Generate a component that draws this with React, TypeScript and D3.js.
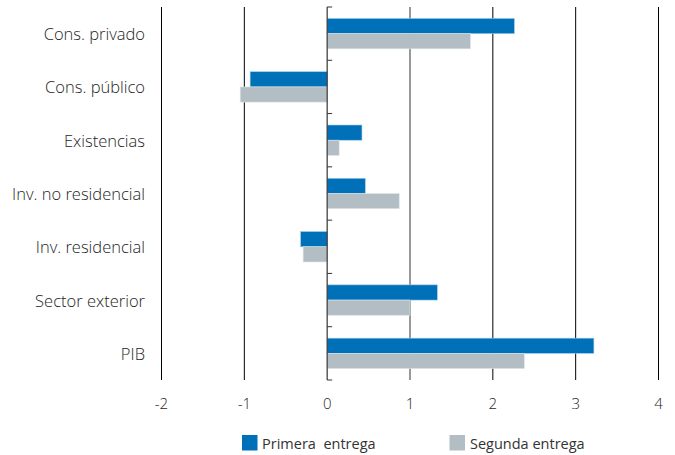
import React from "react";
import * as d3 from "d3";

const categories = [
  "Cons. privado",
  "Cons. público",
  "Existencias",
  "Inv. no residencial",
  "Inv. residencial",
  "Sector exterior",
  "PIB",
];
const primera = [2.26, -0.93, 0.42, 0.46, -0.32, 1.33, 3.22];
const segunda = [1.73, -1.05, 0.145, 0.87, -0.29, 1.0, 2.38];
const xTicks = [-2, -1, 0, 1, 2, 3, 4];
const seriesNames = ["Primera  entrega", "Segunda entrega"];

const W = 675;
const H = 455;
const FONT = "'Open Sans', 'Noto Sans', sans-serif";
const BLUE = "#0070b8";
const GRAY = "#b2bec3";

export default function App() {
  const x = d3.scaleLinear().domain([-2, 4]).range([161.5, 658.5]);
  const y = d3.scaleBand<string>().domain(categories).range([7, 380]).paddingInner(0).paddingOuter(0);
  const bw = y.bandwidth();
  const barH = 15.2;
  const top = (c: string) => y(c)! + bw / 2 - barH;
  const x0 = x(0);

  return (
    <svg width={W} height={H} style={{ position: "absolute", left: 0, top: 0, background: "#fff" }}>
      {/* vertical grid */}
      {xTicks.filter((t) => t !== 0).map((t) => (
        <line
          key={t}
          x1={x(t)}
          x2={x(t)}
          y1={7}
          y2={380}
          stroke={t === 1 ? "#7f7f7f" : "#000"}
          strokeWidth={t === 1 ? 1.6 : 1}
        />
      ))}
      {/* bars */}
      {categories.map((c, i) => (
        <g key={c}>
          <rect
            x={Math.min(x0, x(primera[i]))}
            y={top(c)}
            width={Math.abs(x(primera[i]) - x0)}
            height={barH}
            fill={BLUE}
            stroke="#9ccbea"
            strokeWidth={0.6}
          />
          <rect
            x={Math.min(x0, x(segunda[i]))}
            y={top(c) + barH}
            width={Math.abs(x(segunda[i]) - x0)}
            height={barH}
            fill={GRAY}
            stroke="#dfe5e8"
            strokeWidth={0.6}
          />
        </g>
      ))}
      {/* zero axis with category ticks */}
      <line x1={x0} x2={x0} y1={7} y2={380} stroke="#333" strokeWidth={1.2} />
      {d3.range(categories.length + 1).map((i) => {
        const yy = 7 + i * bw;
        return <line key={i} x1={x0} x2={x0 + 5} y1={yy} y2={yy} stroke="#333" strokeWidth={1} />;
      })}
      {/* category labels */}
      {categories.map((c) => (
        <text
          key={c}
          x={145}
          y={y(c)! + bw / 2}
          textAnchor="end"
          dominantBaseline="central"
          fontFamily={FONT}
          fontSize={16.5}
          fontWeight={300}
          fill="#1e1e1e"
        >
          {c}
        </text>
      ))}
      {/* x tick labels */}
      {xTicks.map((t) => (
        <text
          key={t}
          x={x(t)}
          y={403}
          textAnchor="middle"
          dominantBaseline="central"
          fontFamily={FONT}
          fontSize={15}
          fontWeight={300}
          fill="#1e1e1e"
        >
          {t}
        </text>
      ))}
      {/* legend */}
      <rect x={242} y={435} width={15.5} height={15.5} fill={BLUE} />
      <text x={262} y={443} dominantBaseline="central" fontFamily={FONT} fontSize={14.5} fill="#333" style={{ whiteSpace: "pre" }}>
        {seriesNames[0]}
      </text>
      <rect x={449.5} y={435} width={15.5} height={15.5} fill={GRAY} />
      <text x={470} y={443} dominantBaseline="central" fontFamily={FONT} fontSize={14.5} fill="#333">
        {seriesNames[1]}
      </text>
    </svg>
  );
}
